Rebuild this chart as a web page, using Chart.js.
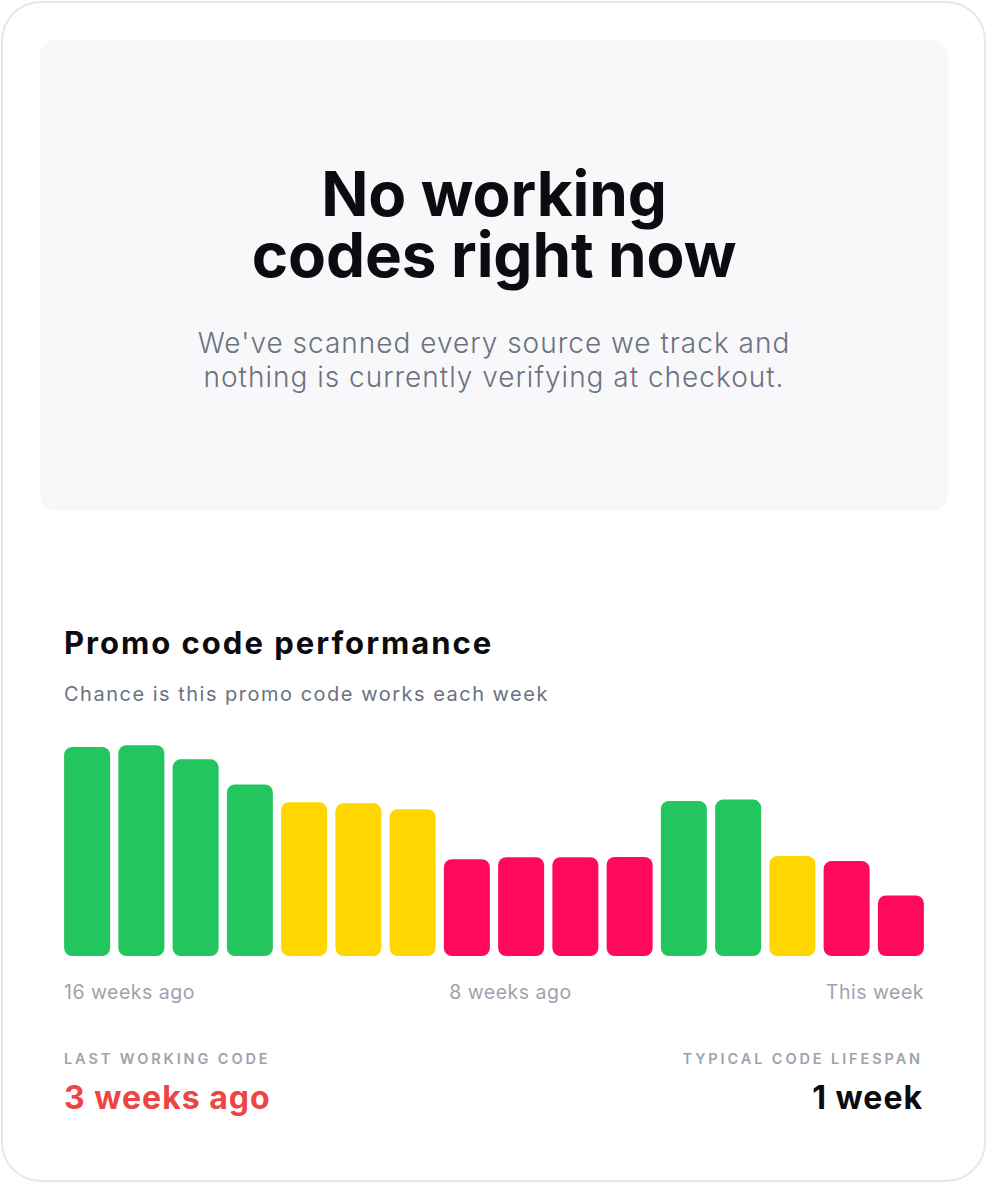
<!DOCTYPE html>
<html>
<head>
<meta charset="utf-8">
<script src="https://cdn.jsdelivr.net/npm/chart.js@4/dist/chart.umd.min.js"></script>
<style>
  html, body { margin: 0; padding: 0; background: #fff; }
  body { width: 988px; height: 1184px; position: relative; font-family: Inter, "Noto Sans", sans-serif; overflow: hidden; }
  .card { position: absolute; left: 1px; top: 1px; width: 985px; height: 1181px; border: 2px solid #e5e7eb; border-radius: 40px; box-sizing: border-box; }
  .hero { position: absolute; left: 40px; top: 40px; width: 908px; height: 471px; background: #f8f8fa; border-radius: 16px; text-align: center; }
  .hero h1 { margin: 0; position: absolute; top: 123px; left: 0; right: 0; font-size: 62px; line-height: 62px; font-weight: 700; color: #0b0b10; letter-spacing: -0.1px; }
  .hero h1 span { display: block; height: 61px; }
  .hero p { margin: 0; position: absolute; top: 286px; left: 0; right: 0; font-size: 28px; line-height: 34px; font-weight: 300; color: #6b7280; letter-spacing: 1px; }
  .title { position: absolute; left: 64px; top: 624px; font-size: 31px; line-height: 38px; font-weight: 700; color: #0b0b10; margin: 0; letter-spacing: 2px; }
  .sub { position: absolute; left: 64px; top: 682px; font-size: 20px; line-height: 24px; color: #6b7280; margin: 0; letter-spacing: 1.5px; }
  #wrap { position: absolute; left: 60px; top: 736px; width: 868px; height: 220px; }
  .axis { position: absolute; left: 64px; width: 860px; top: 980px; display: flex; justify-content: space-between; font-size: 19.5px; line-height: 24px; color: #9ca3af; letter-spacing: 0.5px; }
  .stat { position: absolute; top: 1050px; }
  .stat .k { font-size: 14.5px; line-height: 17px; font-weight: 600; letter-spacing: 2.9px; color: #9ca3af; }
  .stat .v { font-size: 32px; line-height: 39px; font-weight: 700; margin-top: 11px; letter-spacing: 1px; }
</style>
</head>
<body>
<div class="card"></div>
<div class="hero">
  <h1><span>No working</span><span>codes right now</span></h1>
  <p>We've scanned every source we track and<br>nothing is currently verifying at checkout.</p>
</div>
<h2 class="title">Promo code performance</h2>
<p class="sub">Chance is this promo code works each week</p>
<div id="wrap"><canvas id="chart"></canvas></div>
<div class="axis" id="axis"></div>
<div class="stat" style="left:64px"><div class="k">LAST WORKING CODE</div><div class="v" style="color:#ef4444">3 weeks ago</div></div>
<div class="stat" style="right:65px;text-align:right"><div class="k">TYPICAL CODE LIFESPAN</div><div class="v" style="color:#0b0b10">1 week</div></div>
<script>
// 16 weeks, oldest first
let weeks = ['w16', 'w15', 'w14', 'w13', 'w12', 'w11', 'w10', 'w9', 'w8', 'w7', 'w6', 'w5', 'w4', 'w3', 'w2', 'w1'];
let chance = [95, 95.8, 89.4, 78, 69.9, 69.4, 66.7, 44, 44.9, 44.9, 45, 70.5, 71.1, 45.5, 43.2, 27.5];
let status = ['good', 'good', 'good', 'good', 'ok', 'ok', 'ok', 'bad', 'bad', 'bad', 'bad', 'good', 'good', 'ok', 'bad', 'bad'];
let axisLabels = ['16 weeks ago', '8 weeks ago', 'This week'];

let colores = { good: '#22c55e', ok: '#ffd600', bad: '#ff0a5b' };

document.getElementById('axis').innerHTML = axisLabels.map(t => '<span>' + t + '</span>').join('');

let ctx = document.getElementById('chart');

let miGrafica = new Chart(ctx, {
    type: 'bar',
    data: {
        labels: weeks,
        datasets: [{
            data: chance,
            backgroundColor: status.map(s => colores[s]),
            borderRadius: 8,
            borderSkipped: false,
            barPercentage: 0.848,
            categoryPercentage: 1,
        }]
    },
    options: {
        responsive: true,
        maintainAspectRatio: false,
        animation: false,
        layout: { padding: 0 },
        scales: {
            x: { display: false },
            y: { display: false, min: 0, max: 100 }
        },
        plugins: {
            legend: { display: false },
            tooltip: { enabled: false }
        }
    }
});
</script>
</body>
</html>
